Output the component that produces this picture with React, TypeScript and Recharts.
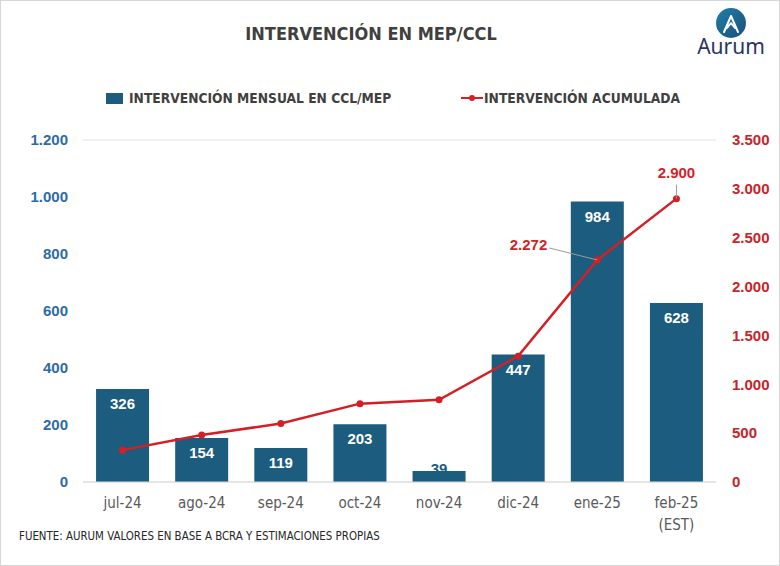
import React from 'react';
import { ComposedChart, Bar, Line, XAxis, YAxis, CartesianGrid, LabelList } from 'recharts';

const months = ['jul-24', 'ago-24', 'sep-24', 'oct-24', 'nov-24', 'dic-24', 'ene-25', 'feb-25'];
const monthlyIntervention = [326, 154, 119, 203, 39, 447, 984, 628];
const cumulativeIntervention = [326, 480, 599, 802, 841, 1288, 2272, 2900];
const leftTicks = [0, 200, 400, 600, 800, 1000, 1200];
const rightTicks = [0, 500, 1000, 1500, 2000, 2500, 3000, 3500];

const data = months.map((m, i) => ({
  month: m,
  mensual: monthlyIntervention[i],
  acumulada: cumulativeIntervention[i],
}));

const BAR = '#1C5C7E';
const RED = '#D41F26';
const BLUE_TICK = '#2E6BA6';
const RED_TICK = '#C8232B';
const GRAY = '#404040';
const NARROW = '"DejaVu Sans Condensed", "Liberation Sans Narrow", "Roboto", sans-serif';
const ARIAL = '"Liberation Sans", Arial, sans-serif';

const fmt = (v: number) => v.toLocaleString('de-DE');

const XTick = (props: any) => {
  const { x, y, payload } = props;
  const isEst = payload.value === 'feb-25';
  return (
    <g transform={`translate(${x},${y})`}>
      <text x={0} y={0} dy={18} textAnchor="middle" fill="#595959" fontFamily={NARROW} fontSize={15}>
        {payload.value}
      </text>
      {isEst && (
        <text x={0} y={0} dy={40} textAnchor="middle" fill="#595959" fontFamily={NARROW} fontSize={15}>
          (EST)
        </text>
      )}
    </g>
  );
};

const BarValue = (props: any) => {
  const { x, y, width, value } = props;
  const cx = x + width / 2;
  if (value < 60) {
    return (
      <text x={cx} y={y + 3} textAnchor="middle" fill={BAR} fontFamily={ARIAL} fontWeight="bold" fontSize={15}>
        {fmt(value)}
      </text>
    );
  }
  return (
    <text x={cx} y={y + 20} textAnchor="middle" fill="#ffffff" fontFamily={ARIAL} fontWeight="bold" fontSize={15}>
      {fmt(value)}
    </text>
  );
};

const LineValue = (props: any) => {
  const { x, y, value, index } = props;
  if (index === 6) {
    return (
      <g>
        <line x1={x} y1={y} x2={x - 48} y2={y - 12} stroke="#9a9a9a" strokeWidth={1} />
        <text x={x - 50} y={y - 10} textAnchor="end" fill={RED} fontFamily={ARIAL} fontWeight="bold" fontSize={15}>
          {fmt(value)}
        </text>
      </g>
    );
  }
  if (index === 7) {
    return (
      <g>
        <line x1={x} y1={y} x2={x} y2={y - 14} stroke="#9a9a9a" strokeWidth={1} />
        <text x={x} y={y - 21} textAnchor="middle" fill={RED} fontFamily={ARIAL} fontWeight="bold" fontSize={15}>
          {fmt(value)}
        </text>
      </g>
    );
  }
  return null;
};

const Logo = () => (
  <svg width={90} height={60} style={{ position: 'absolute', left: 685, top: 5 }}>
    <defs>
      <linearGradient id="logoGrad" x1="0" y1="0" x2="1" y2="1">
        <stop offset="0%" stopColor="#1E7FA8" />
        <stop offset="100%" stopColor="#1C4F7A" />
      </linearGradient>
    </defs>
    <circle cx={45} cy={17} r={15} fill="url(#logoGrad)" />
    <path d="M38 26 L45 10 L52 26 M41 22 L45 17 L49 22" stroke="#ffffff" strokeWidth={2} fill="none" strokeLinejoin="round" strokeLinecap="round" />
    <text x={45} y={48} textAnchor="middle" fill="#2A3560" fontFamily='"Noto Sans", sans-serif' fontSize={21}>
      Aurum
    </text>
  </svg>
);

export default function App() {
  return (
    <div
      style={{
        position: 'absolute',
        left: 0,
        top: 0,
        width: 780,
        height: 566,
        background: '#ffffff',
        border: '1px solid #d6d6d6',
        boxSizing: 'border-box',
        overflow: 'hidden',
      }}
    >
      <div
        style={{
          position: 'absolute',
          left: 0,
          width: 740,
          top: 22,
          textAlign: 'center',
          fontFamily: NARROW,
          fontWeight: 'bold',
          fontSize: 18,
          color: GRAY,
        }}
      >
        INTERVENCIÓN EN MEP/CCL
      </div>
      <Logo />
      <div style={{ position: 'absolute', left: 105, top: 89, display: 'flex', alignItems: 'center', fontFamily: NARROW, fontWeight: 'bold', fontSize: 13.7, color: GRAY }}>
        <span style={{ display: 'inline-block', width: 17, height: 11, background: BAR, marginRight: 6 }} />
        INTERVENCIÓN MENSUAL EN CCL/MEP
      </div>
      <div style={{ position: 'absolute', left: 460, top: 89, display: 'flex', alignItems: 'center', fontFamily: NARROW, fontWeight: 'bold', fontSize: 13.7, color: GRAY }}>
        <svg width={22} height={12} style={{ marginRight: 1 }}>
          <line x1={0} y1={6} x2={22} y2={6} stroke={RED} strokeWidth={2} />
          <circle cx={11} cy={6} r={3} fill={RED} />
        </svg>
        INTERVENCIÓN ACUMULADA
      </div>
      <div style={{ position: 'absolute', left: 18, top: 528, fontFamily: NARROW, fontSize: 11.4, color: '#262626' }}>
        FUENTE: AURUM VALORES EN BASE A BCRA Y ESTIMACIONES PROPIAS
      </div>
      <div style={{ position: 'absolute', left: 0, top: 0 }}>
        <ComposedChart
          width={780}
          height={566}
          data={data}
          margin={{ top: 139, right: 0, bottom: 25, left: 0 }}
          barCategoryGap="16.5%"
        >
          <CartesianGrid vertical={false} stroke="#e3e3e3" />
          <XAxis
            dataKey="month"
            height={60}
            axisLine={{ stroke: '#d9d9d9' }}
            tickLine={false}
            tick={<XTick />}
            interval={0}
          />
          <YAxis
            yAxisId="left"
            orientation="left"
            width={82}
            domain={[0, 1200]}
            ticks={leftTicks}
            axisLine={false}
            tickLine={false}
            tickSize={0}
            tickMargin={15}
            tickFormatter={fmt}
            tick={{ fill: BLUE_TICK, fontFamily: ARIAL, fontWeight: 'bold', fontSize: 15 }}
          />
          <YAxis
            yAxisId="right"
            orientation="right"
            width={65}
            domain={[0, 3500]}
            ticks={rightTicks}
            axisLine={false}
            tickLine={false}
            tickSize={0}
            tickMargin={16}
            tickFormatter={fmt}
            tick={{ fill: RED_TICK, fontFamily: ARIAL, fontWeight: 'bold', fontSize: 15, textAnchor: 'start' }}
          />
          <Bar yAxisId="left" dataKey="mensual" fill={BAR} isAnimationActive={false}>
            <LabelList dataKey="mensual" content={<BarValue />} />
          </Bar>
          <Line
            yAxisId="right"
            type="linear"
            dataKey="acumulada"
            stroke={RED}
            strokeWidth={2.5}
            dot={{ r: 3.5, fill: RED, stroke: RED, strokeWidth: 0 }}
            isAnimationActive={false}
          >
            <LabelList dataKey="acumulada" content={<LineValue />} />
          </Line>
        </ComposedChart>
      </div>
    </div>
  );
}
